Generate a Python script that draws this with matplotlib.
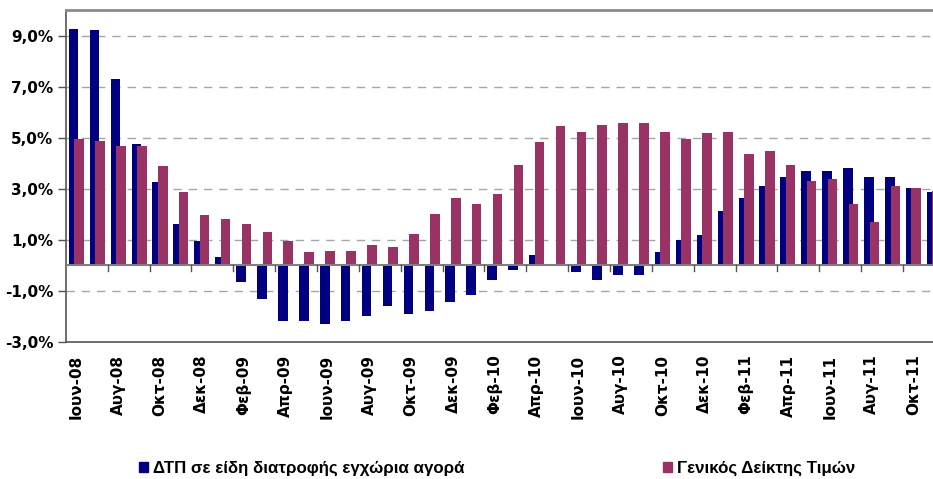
import numpy as np
import matplotlib.pyplot as plt
from matplotlib.patches import Patch
from matplotlib.ticker import FuncFormatter

# monthly series, Jun-08 .. Nov-11 (annual % change)
months = ['Ιουν-08', 'Ιουλ-08', 'Αυγ-08', 'Σεπ-08', 'Οκτ-08', 'Νοε-08', 'Δεκ-08',
          'Ιαν-09', 'Φεβ-09', 'Μαρ-09', 'Απρ-09', 'Μαϊ-09', 'Ιουν-09', 'Ιουλ-09',
          'Αυγ-09', 'Σεπ-09', 'Οκτ-09', 'Νοε-09', 'Δεκ-09', 'Ιαν-10', 'Φεβ-10',
          'Μαρ-10', 'Απρ-10', 'Μαϊ-10', 'Ιουν-10', 'Ιουλ-10', 'Αυγ-10', 'Σεπ-10',
          'Οκτ-10', 'Νοε-10', 'Δεκ-10', 'Ιαν-11', 'Φεβ-11', 'Μαρ-11', 'Απρ-11',
          'Μαϊ-11', 'Ιουν-11', 'Ιουλ-11', 'Αυγ-11', 'Σεπ-11', 'Οκτ-11', 'Νοε-11']

food = [9.27, 9.23, 7.31, 4.76, 3.26, 1.62, 0.95, 0.32, -0.66, -1.33, -2.19, -2.19,
        -2.31, -2.19, -1.99, -1.60, -1.92, -1.80, -1.45, -1.17, -0.58, -0.19,
        0.40, 0.00, -0.27, -0.58, -0.38, -0.38, 0.52, 0.99, 1.19, 2.13, 2.64,
        3.11, 3.46, 3.70, 3.70, 3.81, 3.46, 3.46, 3.03, 2.87]

cpi = [4.95, 4.88, 4.68, 4.68, 3.89, 2.87, 1.97, 1.81, 1.62, 1.30, 0.95, 0.52,
       0.56, 0.56, 0.79, 0.71, 1.22, 2.01, 2.64, 2.40, 2.79, 3.93, 4.84, 5.46,
       5.23, 5.50, 5.58, 5.58, 5.23, 4.95, 5.19, 5.23, 4.37, 4.49, 3.93, 3.30,
       3.38, 2.40, 1.69, 3.11, 3.03, 2.90]

food_label = 'ΔΤΠ σε είδη διατροφής εγχώρια αγορά'
cpi_label = 'Γενικός Δείκτης Τιμών'

navy = '#000080'
plum = '#993366'

fig = plt.figure(figsize=(9.33, 4.79), dpi=100)
ax = fig.add_axes([0.0705, 0.286, 0.9423, 0.693])

x = np.arange(len(months))
w = 0.46
ax.bar(x - 0.13, food, w, color=navy, zorder=3)
ax.bar(x + 0.13, cpi, w, color=plum, zorder=4)

ax.set_xlim(-0.5, len(months) - 0.5)
ax.set_ylim(-3, 10)

# y axis
ax.set_yticks([-3, -1, 1, 3, 5, 7, 9])
ax.yaxis.set_major_formatter(FuncFormatter(lambda v, p: f'{v:.1f}%'.replace('.', ',')))
ax.tick_params(axis='y', length=6, width=1, color='#555555', pad=3,
               labelsize=11)
for lbl in ax.get_yticklabels():
    lbl.set_fontweight('bold')
for v in [-1, 1, 3, 5, 7, 9]:
    ax.axhline(v, color='#a6a6a6', lw=1, ls=(0, (6, 5)), zorder=1)

# zero line with category ticks every two months
ax.axhline(0, color='#7f7f7f', lw=1.5, zorder=5)
for b in np.arange(1.5, len(months), 2):
    ax.plot([b, b], [0, -0.22], color='#555555', lw=1, zorder=5, clip_on=False)

ax.set_xticks(x[::2])
ax.set_xticklabels(months[::2], rotation=90, fontsize=11, fontweight='bold')
ax.tick_params(axis='x', length=0, pad=9)

for s in ['left', 'bottom', 'top']:
    ax.spines[s].set_color('#555555')
    ax.spines[s].set_linewidth(1.2)
ax.spines['top'].set_color('#8c8c8c')
ax.spines['top'].set_linewidth(2)
ax.spines['right'].set_visible(False)

# legend entries
legfont = {'family': 'Liberation Sans', 'weight': 'bold', 'size': 12.2}
fig.legend(handles=[Patch(color=navy, label=food_label)], loc='center left',
           bbox_to_anchor=(0.149, 0.022), frameon=False, prop=legfont,
           handlelength=0.55, handleheight=0.55, handletextpad=0.3,
           borderpad=0, borderaxespad=0)
fig.legend(handles=[Patch(color=plum, label=cpi_label)], loc='center left',
           bbox_to_anchor=(0.7105, 0.022), frameon=False, prop=legfont,
           handlelength=0.55, handleheight=0.55, handletextpad=0.3,
           borderpad=0, borderaxespad=0)

fig.savefig('out.png', dpi=100)
